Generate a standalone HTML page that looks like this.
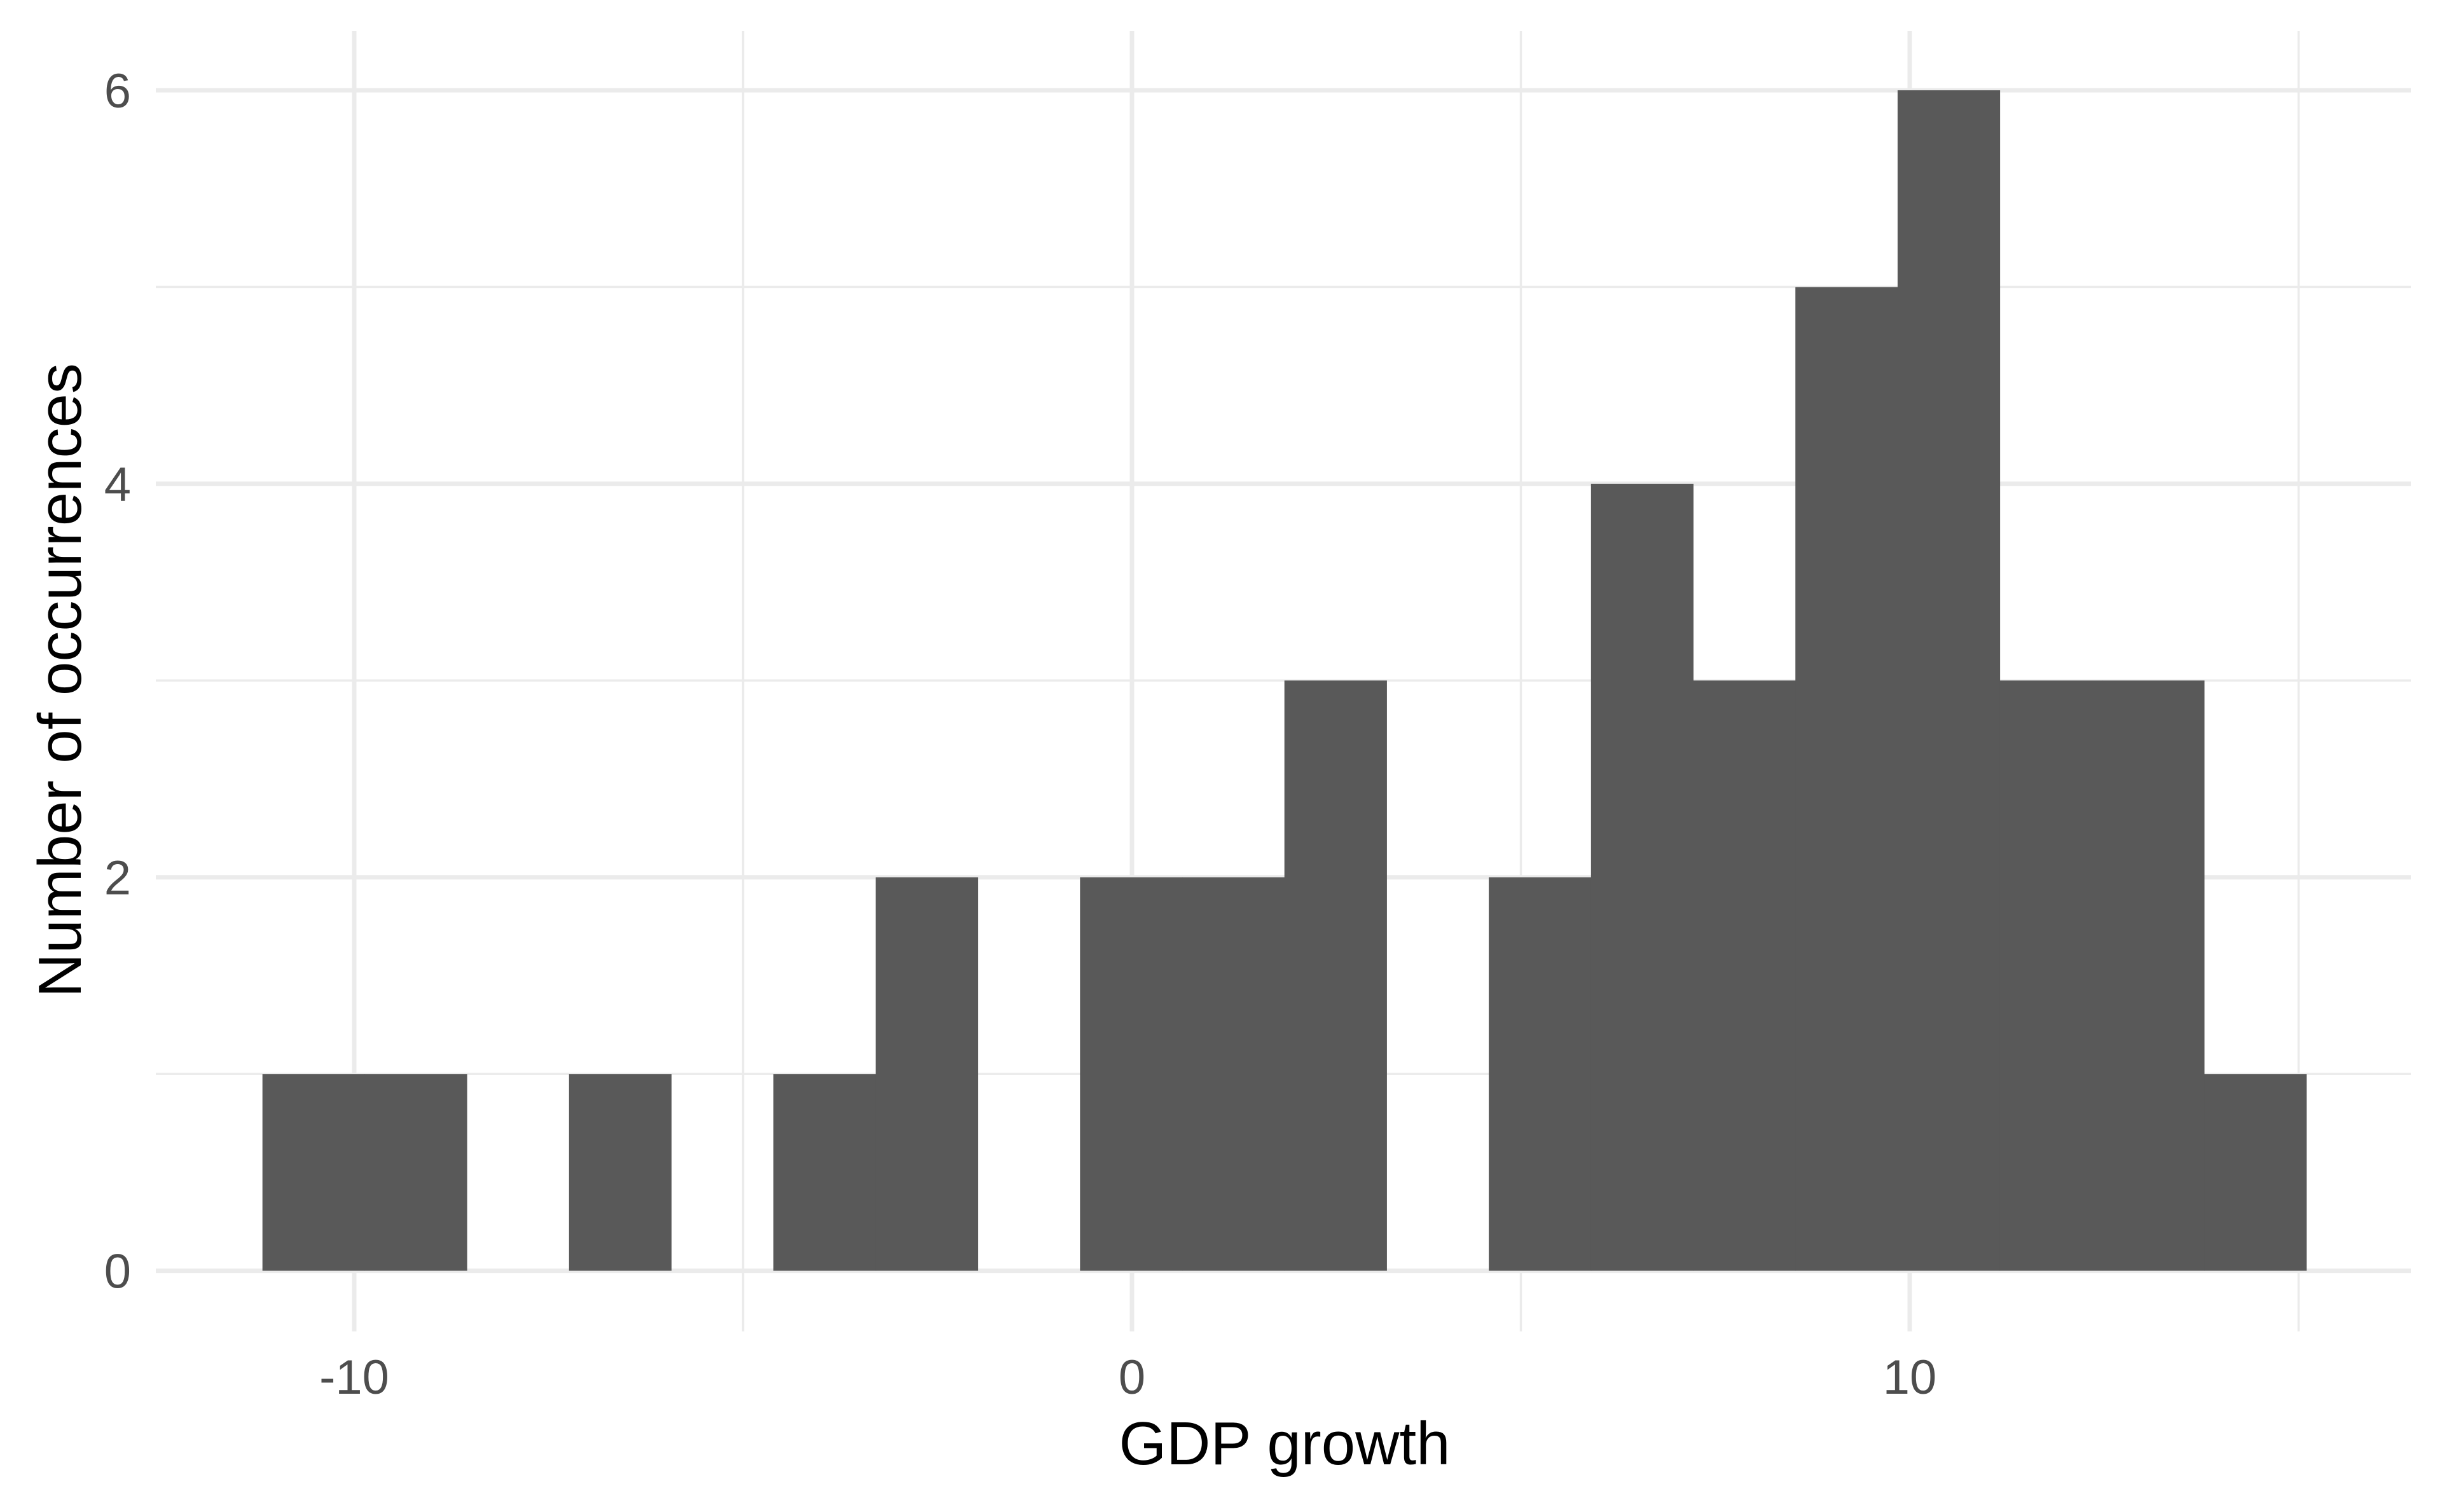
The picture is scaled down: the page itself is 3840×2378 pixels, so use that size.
<!DOCTYPE html>
<html><head><meta charset="utf-8"><style>
html,body{margin:0;padding:0;background:#fff;}
svg text{font-family:"Liberation Sans",sans-serif;}
</style></head><body>
<svg id="chart" width="3840" height="2373" xmlns="http://www.w3.org/2000/svg">
<g id="grid"></g>
<g id="bars"></g>
<g id="xt"></g>
<g id="yt"></g>
<text x="2020" y="2303" font-size="96" text-anchor="middle" fill="#000">GDP growth</text>
<text x="0" y="0" font-size="96" text-anchor="middle" fill="#000" transform="translate(127,1070) rotate(-90)">Number of occurrences</text>
</svg>
<script>
const binStart = -11.18;
const binWidth = 1.314;
const counts = [1,1,0,1,0,1,2,0,2,2,3,0,2,4,3,5,6,3,3,1];
const xTicks = [-10,0,10];
const xTickLabels = ["-10","0","10"];
const xMinor = [-5,5,15];
const yTicks = [0,2,4,6];
const yMinor = [1,3,5];

const NS="http://www.w3.org/2000/svg";
const PL=245, PR=3791, PT=49, PB=2094;
function xs(v){return 1780 + v*122.3;}
function ys(v){return 1998.6 - v*(1998.6-142)/6;}
function mk(tag,attrs,parent){const e=document.createElementNS(NS,tag);for(const k in attrs)e.setAttribute(k,attrs[k]);parent.appendChild(e);return e;}
const grid=document.getElementById('grid');
yMinor.forEach(v=>{const l=mk('line',{x1:PL,x2:PR,y1:ys(v),y2:ys(v),stroke:'#ebebeb','stroke-width':3.5},grid);

});
xMinor.forEach(v=>{const l=mk('line',{x1:xs(v),x2:xs(v),y1:PT,y2:PB,stroke:'#ebebeb','stroke-width':3.5},grid);

});
yTicks.forEach(v=>{const l=mk('line',{x1:PL,x2:PR,y1:ys(v),y2:ys(v),stroke:'#ebebeb','stroke-width':7},grid);

});
xTicks.forEach(v=>{const l=mk('line',{x1:xs(v),x2:xs(v),y1:PT,y2:PB,stroke:'#ebebeb','stroke-width':7},grid);

});
const bars=document.getElementById('bars');
counts.forEach((c,i)=>{if(!c)return;const x0=xs(binStart+i*binWidth),x1=xs(binStart+(i+1)*binWidth);
const r=mk('rect',{x:x0,y:ys(c),width:x1-x0+0.5,height:ys(0)-ys(c),fill:'#595959'},bars);

});
const xt=document.getElementById('xt');
xTicks.forEach((v,i)=>{const t=mk('text',{x:xs(v),y:2192,'font-size':76,'text-anchor':'middle',fill:'#4d4d4d'},xt);t.textContent=xTickLabels[i];

});
const yt=document.getElementById('yt');
yTicks.forEach(v=>{const t=mk('text',{x:206,y:ys(v)+27,'font-size':76,'text-anchor':'end',fill:'#4d4d4d'},yt);t.textContent=String(v);

});
</script>
</body></html>
